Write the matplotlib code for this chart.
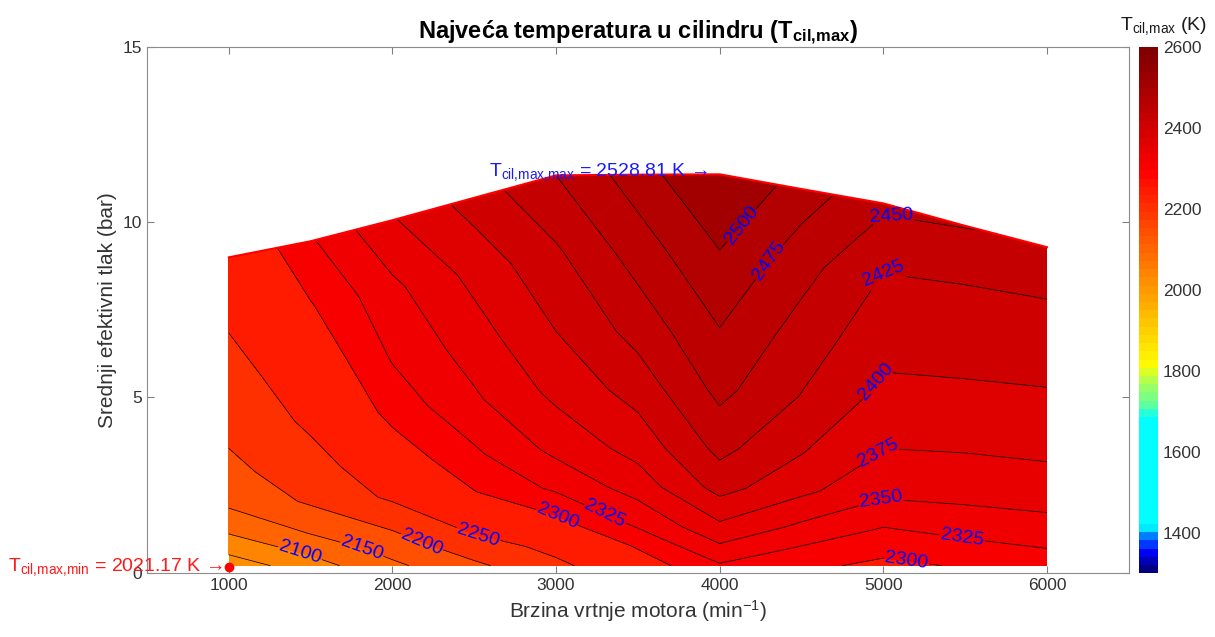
import numpy as np
import matplotlib
matplotlib.use('Agg')
from matplotlib import pyplot as plt
from matplotlib.colors import LinearSegmentedColormap, ListedColormap, Normalize
from matplotlib.cm import ScalarMappable

plt.rcParams['font.family'] = ['Liberation Sans', 'DejaVu Sans']
plt.rcParams['mathtext.fontset'] = 'custom'
plt.rcParams['mathtext.rm'] = 'Liberation Sans'
plt.rcParams['mathtext.it'] = 'Liberation Sans:italic'
plt.rcParams['mathtext.bf'] = 'Liberation Sans:bold'

# brzina vrtnje (min^-1) i najveci srednji efektivni tlak po brzini (bar)
rpm = [1000, 1500, 2000, 2500, 3000, 3500, 4000, 4500, 5000, 5500, 6000]
p_max = [9.0, 9.46, 10.06, 10.7, 11.34, 11.36, 11.37, 10.95, 10.54, 9.9, 9.29]
p_min = 0.2
load_frac = [0, 0.05, 0.1, 0.2, 0.3, 0.45, 0.6, 0.8, 1.0]

# T_cil,max (K), redak = udio opterecenja, stupac = brzina
T_cil = [
    [2021.17, 2078, 2140, 2190, 2240, 2285, 2322, 2305, 2295, 2302, 2310],
    [2062, 2114, 2169, 2226, 2264, 2303, 2347, 2324, 2307, 2316, 2324],
    [2098, 2152, 2199, 2260, 2288, 2327, 2370, 2344, 2323, 2331, 2336],
    [2158, 2208, 2259, 2299, 2330, 2361, 2409, 2381, 2355, 2355, 2357],
    [2185, 2232, 2282, 2320, 2357, 2384, 2432, 2401, 2372, 2371, 2372],
    [2213, 2259, 2309, 2346, 2382, 2410, 2457, 2424, 2391, 2390, 2389],
    [2233, 2275, 2327, 2362, 2400, 2434, 2474, 2438, 2407, 2405, 2404],
    [2255, 2298, 2344, 2383, 2421, 2461, 2499, 2460, 2424, 2421, 2420],
    [2268, 2322, 2373, 2411, 2450, 2488, 2528.81, 2488, 2455, 2451, 2447],
]

line_levels = [2050, 2100, 2150, 2200, 2250, 2300, 2325, 2350, 2375,
               2400, 2425, 2450, 2475, 2500]

# polozaji natpisa izohipsi (rucno, kao na slici)
label_pos = [(1434, 0.54), (1812, 0.66), (2179, 0.86), (2533, 1.2),
             (3004, 1.57), (3285, 1.57), (5142, 0.31), (5484, 1.03),
             (5007, 1.77), (4977, 3.4), (4989, 5.34), (5007, 8.63),
             (5056, 10.26), (4274, 8.97), (4091, 10.06)]

# colormap (jet s nelinearnim razmakom)
nodes = [(1300, (0, 0, 0.5)), (1345, (0, 0, 1)), (1390, (0, 0.6, 1)),
         (1405, (0, 1, 1)), (1685, (0, 1, 1)), (1700, (0.3, 1, 0.7)),
         (1790, (0.8, 1, 0.2)), (1805, (1, 1, 0)), (2300, (1, 0, 0)),
         (2600, (0.5, 0, 0))]
vmin, vmax = 1300, 2600
base = LinearSegmentedColormap.from_list(
    'tcil', [((v - vmin) / (vmax - vmin), c) for v, c in nodes])
cmap = ListedColormap(base(np.linspace(0, 1, 64)))
norm = Normalize(vmin, vmax)

X, F = np.meshgrid(rpm, load_frac)
Y = p_min + F * (np.array(p_max) - p_min)
Z = np.array(T_cil)

fig = plt.figure(figsize=(12.15, 6.37), dpi=100)
ax = fig.add_axes([0.121, 0.101, 0.808, 0.825])

fill_levels = [Z.min()] + line_levels + [Z.max() + 1]
fill_colors = [cmap(norm(v)) for v in fill_levels[:-1]]
ax.contourf(X, Y, Z, levels=fill_levels, colors=fill_colors)
cs = ax.contour(X, Y, Z, levels=line_levels, colors='k', linewidths=0.5)
ax.clabel(cs, line_levels, inline=True, fmt='%d', fontsize=14,
          colors='blue', manual=label_pos, inline_spacing=6)

# gornji rub podrucja
ax.plot(rpm, p_max, color='red', lw=1.5)

# min i max
i_min = np.unravel_index(np.argmin(Z), Z.shape)
i_max = np.unravel_index(np.argmax(Z), Z.shape)
ax.plot(X[i_min], Y[i_min] - 0.03, 'o', color='red', ms=6, clip_on=False)
ax.annotate(r'$\mathregular{T_{cil{,}max{,}min}}$ = %.2f K →' % Z[i_min],
            xy=(X[i_min], Y[i_min] - 0.03), xytext=(-6, 0),
            textcoords='offset pixels', ha='right', va='center',
            color=(1, 0.1, 0.1), fontsize=14, annotation_clip=False)
ax.annotate(r'$\mathregular{T_{cil{,}max{,}max}}$ = %.2f K →' % Z[i_max],
            xy=(X[i_max], Y[i_max]), xytext=(-12, 2),
            textcoords='offset pixels', ha='right', va='center',
            color=(0.1, 0.1, 1), fontsize=14)

ax.set_xlim(500, 6500)
ax.set_ylim(0, 15)
ax.set_xticks([1000, 2000, 3000, 4000, 5000, 6000])
ax.set_yticks([0, 5, 10, 15])
ax.tick_params(direction='in', top=True, right=True, labelsize=12.5,
               colors='0.5', labelcolor='0.2', length=5)
for s in ax.spines.values():
    s.set_color('0.55')
    s.set_linewidth(0.8)

ax.set_title(r'Najveća temperatura u cilindru ($\mathbf{T_{cil{,}max}}$)',
             fontsize=17, fontweight='bold', pad=6)
ax.set_xlabel(r'Brzina vrtnje motora (min$^{\mathregular{-1}}$)', fontsize=15,
              color='0.2')
ax.set_ylabel('Srednji efektivni tlak (bar)', fontsize=15, color='0.2')

cax = fig.add_axes([0.9374, 0.100, 0.0156, 0.826])
cb = fig.colorbar(ScalarMappable(norm=norm, cmap=cmap), cax=cax,
                  ticks=[1400, 1600, 1800, 2000, 2200, 2400, 2600])
cb.ax.tick_params(labelsize=12.5, length=0, labelcolor='0.2')
cb.outline.set_visible(False)
cax.text(1.3, 1.02, r'$\mathregular{T_{cil{,}max}}$ (K)', fontsize=14,
         color='0.1', transform=cax.transAxes, ha='center', va='bottom')

plt.savefig('out.png', dpi=100)
